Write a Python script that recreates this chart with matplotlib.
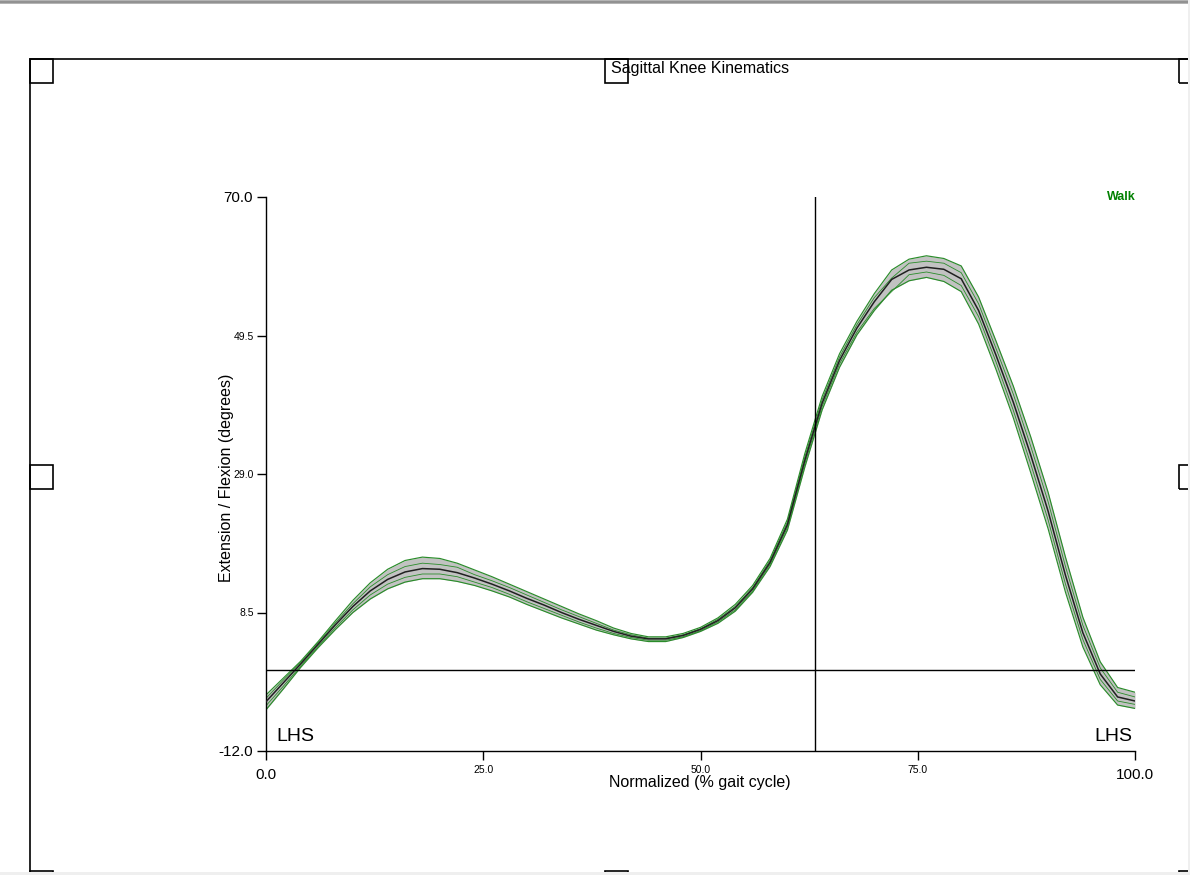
import matplotlib
matplotlib.use("Agg")
import matplotlib.pyplot as plt
from matplotlib.patches import Rectangle
from matplotlib.lines import Line2D
from matplotlib.ticker import FixedLocator, FixedFormatter

plt.rcParams['font.family'] = ['Liberation Sans', 'DejaVu Sans']

# ---------------- data ----------------
gait_pct = [0, 2, 4, 6, 8, 10, 12, 14, 16, 18, 20, 22, 24, 26, 28, 30, 32, 34, 36, 38,
            40, 42, 44, 46, 48, 50, 52, 54, 56, 58, 60, 62, 64, 66, 68, 70, 72, 74, 76, 78,
            80, 82, 84, 86, 88, 90, 92, 94, 96, 98, 100]

knee_mean = [-4.7, -1.9, 0.9, 3.8, 6.7, 9.4, 11.7, 13.4, 14.5, 15.0, 14.9, 14.4, 13.6, 12.7,
             11.7, 10.6, 9.6, 8.5, 7.5, 6.6, 5.7, 5.0, 4.6, 4.6, 5.1, 6.0, 7.3, 9.2, 12.0,
             15.9, 21.5, 31.0, 39.5, 45.8, 50.6, 54.5, 57.8, 59.2, 59.6, 59.3, 57.9, 53.2,
             46.6, 39.6, 31.8, 23.5, 14.0, 5.5, -0.6, -4.0, -4.6]

knee_upper = [-3.7, -1.2, 1.3, 4.2, 7.3, 10.3, 12.9, 14.9, 16.2, 16.7, 16.5, 15.8, 14.8, 13.8,
              12.7, 11.6, 10.5, 9.4, 8.3, 7.3, 6.2, 5.4, 4.9, 4.9, 5.4, 6.3, 7.7, 9.7, 12.5,
              16.5, 22.3, 32.0, 40.5, 46.8, 51.6, 55.7, 59.2, 60.8, 61.3, 60.9, 59.8, 55.2,
              48.7, 42.0, 34.5, 26.3, 16.7, 7.8, 1.2, -2.6, -3.3]

knee_lower = [-5.9, -2.8, 0.4, 3.3, 6.0, 8.5, 10.5, 12.0, 13.0, 13.5, 13.5, 13.1, 12.5, 11.7,
              10.8, 9.7, 8.7, 7.7, 6.8, 5.9, 5.2, 4.6, 4.2, 4.2, 4.8, 5.7, 6.9, 8.7, 11.5,
              15.3, 20.7, 30.0, 38.5, 44.8, 49.6, 53.2, 56.2, 57.6, 58.1, 57.5, 56.0, 51.2,
              44.5, 37.3, 29.2, 20.9, 11.5, 3.4, -2.2, -5.2, -5.7]

trial_a = [-4.2, -1.5, 1.1, 4.0, 7.0, 9.8, 12.3, 14.1, 15.3, 15.8, 15.6, 15.2, 14.1, 13.2,
           12.2, 11.1, 10.0, 8.9, 7.9, 6.9, 5.9, 5.2, 4.7, 4.7, 5.2, 6.1, 7.5, 9.4, 12.2,
           16.2, 21.9, 31.5, 40.0, 46.3, 51.1, 55.1, 58.0, 60.2, 60.5, 60.2, 58.8, 54.2,
           47.6, 40.8, 33.1, 24.9, 15.3, 6.6, 0.3, -3.3, -4.0]

trial_b = [-5.3, -2.4, 0.6, 3.5, 6.3, 8.9, 11.1, 12.7, 13.7, 14.2, 14.2, 13.8, 13.0, 12.2,
           11.2, 10.1, 9.1, 8.1, 7.1, 6.2, 5.4, 4.8, 4.4, 4.4, 4.9, 5.8, 7.1, 8.9, 11.7,
           15.6, 21.1, 30.5, 39.0, 45.3, 50.0, 53.5, 56.0, 58.5, 58.9, 58.4, 56.9, 52.3,
           45.6, 38.4, 30.5, 22.2, 12.7, 4.5, -1.4, -4.6, -5.1]

toe_off = 63.2
y_major = [-12.0, 70.0]
y_minor = [8.5, 29.0, 49.5]
x_major = [0.0, 100.0]
x_minor = [25.0, 50.0, 75.0]

# ---------------- figure ----------------
W, H = 1190, 875
fig = plt.figure(figsize=(W / 100, H / 100), dpi=100)
fig.patch.set_facecolor('white')


def fx(px):
    return px / W


def fy(py):
    return 1 - py / H


ax = fig.add_axes([fx(266), fy(751), 869 / W, 554 / H])
ax.set_xlim(0, 100)
ax.set_ylim(-12, 70)

green = '#2a8c2a'
ax.fill_between(gait_pct, knee_lower, knee_upper, color='#c2c2c2', lw=0, zorder=1)
for series in (knee_upper, knee_lower):
    ax.plot(gait_pct, series, color=green, lw=0.85, zorder=2)
for series in (trial_a, trial_b):
    ax.plot(gait_pct, series, color=green, lw=0.6, zorder=2)
ax.plot(gait_pct, knee_mean, color='#202020', lw=1.1, zorder=3)

ax.axhline(0, color='black', lw=1, zorder=4)
ax.axvline(toe_off, color='black', lw=1, zorder=4)

for s in ('top', 'right'):
    ax.spines[s].set_visible(False)
for s in ('left', 'bottom'):
    ax.spines[s].set_linewidth(1)
    ax.spines[s].set_color('black')

ax.xaxis.set_major_locator(FixedLocator(x_major))
ax.xaxis.set_major_formatter(FixedFormatter([f"{v:.1f}" for v in x_major]))
ax.xaxis.set_minor_locator(FixedLocator(x_minor))
ax.xaxis.set_minor_formatter(FixedFormatter([f"{v:.1f}" for v in x_minor]))
ax.yaxis.set_major_locator(FixedLocator(y_major))
ax.yaxis.set_major_formatter(FixedFormatter([f"{v:.1f}" for v in y_major]))
ax.yaxis.set_minor_locator(FixedLocator(y_minor))
ax.yaxis.set_minor_formatter(FixedFormatter([f"{v:.1f}" for v in y_minor]))

ax.tick_params(axis='both', which='both', direction='out', length=6.5, width=1, color='black')
ax.tick_params(axis='x', which='major', labelsize=11, pad=6)
ax.tick_params(axis='x', which='minor', labelsize=7.5, pad=3.5)
ax.tick_params(axis='y', which='major', labelsize=11, pad=3)
ax.tick_params(axis='y', which='minor', labelsize=7.5, pad=2)

ax.text(1.15, -10.5, 'LHS', fontsize=14, ha='left', va='baseline')
ax.text(99.7, -10.5, 'LHS', fontsize=14, ha='right', va='baseline')

fig.text(fx(1136), fy(197.5), 'Walk', fontsize=9, fontweight='bold', color='#008000',
         ha='right', va='center')

fig.text(fx(700), fy(68.5), 'Sagittal Knee Kinematics', fontsize=11.5, ha='center', va='center')
fig.text(fx(700), fy(782), 'Normalized (% gait cycle)', fontsize=11.5, ha='center', va='center')
fig.text(fx(226), fy(478), 'Extension / Flexion (degrees)', fontsize=11.5, rotation=90,
         ha='center', va='center')

# ---------------- frame decorations ----------------
fig.add_artist(Rectangle((0, fy(3.5)), 1, 3.5 / H, transform=fig.transFigure,
                         facecolor='#b4b4b4', edgecolor='none'))
fig.add_artist(Line2D([0, 1], [fy(2), fy(2)], transform=fig.transFigure, color='#8c8c8c', lw=1.2))
fig.add_artist(Rectangle((0, 0), 1, 3 / H, transform=fig.transFigure,
                         facecolor='#efefef', edgecolor='none', zorder=10))
fig.add_artist(Rectangle((fx(1188), 0), 2 / W, 1, transform=fig.transFigure,
                         facecolor='#efefef', edgecolor='none', zorder=10))

fig.add_artist(Rectangle((fx(30), fy(895)), (1203 - 30) / W, (895 - 59) / H,
                         transform=fig.transFigure, facecolor='none', edgecolor='black', lw=1.2))
for hx, hy in [(30, 59), (605, 59), (1179, 59), (30, 465), (1179, 465),
               (30, 871), (605, 871), (1179, 871)]:
    fig.add_artist(Rectangle((fx(hx), fy(hy + 24)), 23 / W, 24 / H, transform=fig.transFigure,
                             facecolor='none', edgecolor='black', lw=1.2))

fig.savefig('out.png', dpi=100)
